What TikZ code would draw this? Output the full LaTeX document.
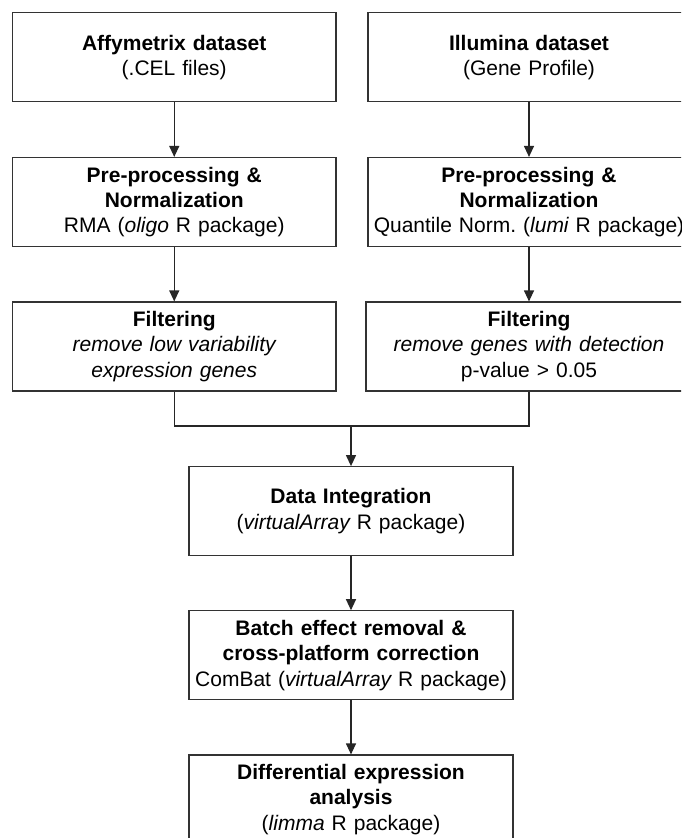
\documentclass[tikz,border=0pt]{standalone}
\usepackage{fontspec}
\setmainfont{Liberation Sans}
\usetikzlibrary{arrows.meta}
\frenchspacing
\newcommand{\itx}[1]{{\itshape #1}}
\begin{document}
\begin{tikzpicture}[x=1pt,y=-1pt,
  box/.style={draw=black!80, line width=1.2pt, rectangle, minimum height=89pt,
    inner sep=0pt, align=center, font=\fontsize{21}{25.3}\selectfont\frenchspacing},
  lbox/.style={box, minimum width=323.5pt, text width=320pt},
  cbox/.style={box, minimum width=324pt, text width=320pt},
  flow/.style={draw=black!85, line width=1.2pt, -{Triangle[width=10pt,length=11pt]}},
  link/.style={draw=black!85, line width=1.2pt}]
\clip (0,0) rectangle (681,838);
\fill[white] (0,0) rectangle (681,838);
% left column
\node[lbox] (a1) at (174.25,57.3) {\textbf{Affymetrix dataset}\\(.CEL files)};
\node[lbox] (a2) at (174.25,202) {\textbf{Pre-processing \&}\\\textbf{Normalization}\\RMA (\itx{oligo} R package)};
\node[lbox] (a3) at (174.25,346.5) {\textbf{Filtering}\\\itx{remove low variability}\\\itx{expression genes}};
% right column
\node[lbox, minimum width=322pt] (b1) at (529,57.3) {\textbf{Illumina dataset}\\(Gene Profile)};
\node[lbox, minimum width=322pt] (b2) at (529,202) {\textbf{Pre-processing \&}\\\textbf{Normalization}\\Quantile Norm. (\itx{lumi} R package)};
\node[lbox, minimum width=326pt] (b3) at (529,346.5) {\textbf{Filtering}\\\itx{remove genes with detection}\\p-value {\char"3E} 0.05};
% centre column
\node[cbox] (di) at (351,511.2) {\textbf{Data Integration}\\(\itx{virtualArray} R package)};
\node[cbox] (be) at (351,655.3) {\textbf{Batch effect removal \&}\\\textbf{cross-platform correction}\\ComBat (\itx{virtualArray} R package)};
\node[cbox] (de) at (351,799.5) {\textbf{Differential expression}\\\textbf{analysis}\\(\itx{limma} R package)};
\coordinate (j) at (351,426);
% connectors
\draw[flow] (a1) -- (a2);
\draw[flow] (a2) -- (a3);
\draw[flow] (b1) -- (b2);
\draw[flow] (b2) -- (b3);
\draw[link] (a3.south) |- (j);
\draw[link] (b3.south) |- (j);
\draw[flow] (j) -- (di);
\draw[flow] (di) -- (be);
\draw[flow] (be) -- (de);
\end{tikzpicture}
\end{document}
